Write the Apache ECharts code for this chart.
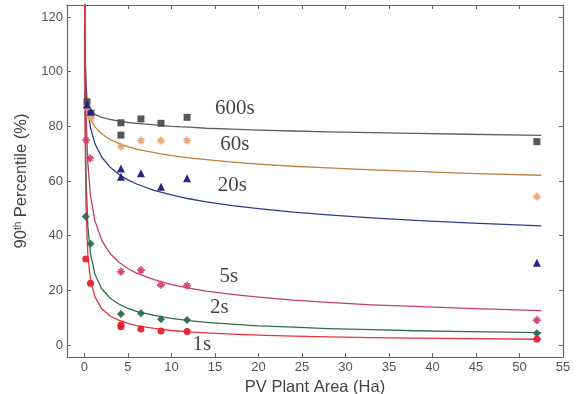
<!DOCTYPE html>
<html>
<head>
<meta charset="utf-8">
<script src="https://cdn.jsdelivr.net/npm/echarts@6/dist/echarts.min.js"></script>
<style>
html,body{margin:0;padding:0;background:#fff;}
#chart{width:576px;height:394px;}
</style>
</head>
<body>
<div id="chart"></div>
<script>
// ---- data ----
var seriesNames = ['600s', '60s', '20s', '5s', '2s', '1s'];

// measured points [area (Ha), 90th percentile (%)]
var pts600 = [[0.3,89],[0.75,84.8],[4.2,81.3],[4.2,76.8],[6.5,82.7],[8.8,81.1],[11.8,83.3],[52,74.4]];
var pts60  = [[0.3,87],[0.75,83],[4.2,72.6],[6.5,74.8],[8.8,74.8],[11.8,74.8],[52,54.3]];
var pts20  = [[0.3,88],[0.75,85.4],[4.2,64.6],[4.2,61.6],[6.5,62.8],[8.8,57.9],[11.8,61],[52,30.1]];
var pts5   = [[0.2,75],[0.65,68.3],[4.2,26.8],[6.5,27.4],[8.8,22],[11.8,21.7],[52,9.1]];
var pts2   = [[0.15,47],[0.7,37],[4.2,11.3],[6.5,11.6],[8.8,9.4],[11.8,9.1],[52,4.3]];
var pts1   = [[0.15,31.5],[0.7,22.6],[4.2,6.7],[4.2,7.3],[6.5,5.8],[8.8,5.1],[11.8,4.9],[52,2.1]];

// fitted curves, values
var fitX   = [0.03, 0.06, 0.1, 0.2, 0.4, 0.7, 1.2, 2, 3, 4, 5, 6, 8, 10, 12, 14, 17, 20, 24, 28, 33, 38, 44, 52.5];
var fit600 = [92.6, 91.0, 89.9, 88.3, 86.8, 85.6, 84.4, 83.3, 82.5, 81.9, 81.4, 81.1, 80.5, 80.0, 79.7, 79.3, 79.0, 78.6, 78.3, 78.0, 77.7, 77.4, 77.1, 76.7];
var fit60  = [102, 97.4, 94.1, 89.9, 85.9, 82.7, 79.8, 77.2, 75.1, 73.7, 72.6, 71.7, 70.4, 69.3, 68.5, 67.8, 66.9, 66.2, 65.4, 64.8, 64.1, 63.5, 62.8, 62.1];
var fit20  = [123, 111.8, 104.1, 94.6, 85.9, 79.5, 73.7, 68.7, 64.9, 62.3, 60.4, 58.9, 56.6, 54.9, 53.5, 52.4, 51.0, 49.9, 48.6, 47.6, 46.5, 45.6, 44.7, 43.6];
var fit5   = [159, 126, 105.9, 83.6, 66.1, 54.6, 45.5, 38.2, 33.3, 30.2, 28.0, 26.3, 23.9, 22.1, 20.8, 19.7, 18.5, 17.5, 16.4, 15.6, 14.7, 14.1, 13.4, 12.6];
var fit2   = [144.6, 104.7, 82.6, 59.8, 43.3, 33.4, 26.0, 20.5, 17.0, 14.9, 13.4, 12.3, 10.8, 9.7, 8.9, 8.3, 7.6, 7.0, 6.5, 6.0, 5.6, 5.2, 4.9, 4.5];
var fit1   = [142, 96, 72, 48.7, 32.9, 24.0, 17.7, 13.2, 10.5, 9.0, 7.9, 7.1, 6.1, 5.3, 4.8, 4.4, 4.0, 3.6, 3.25, 3.0, 2.7, 2.5, 2.3, 2.1];

// curve labels: [text, x, y] in data units
var curveLabels = [['600s',17.3,86.5],['60s',17.3,73.2],['20s',17.0,58.3],['5s',16.6,24.9],['2s',15.5,13.7],['1s',13.5,0.2]];

var xTicks = [0,5,10,15,20,25,30,35,40,45,50,55];
var yTicks = [0,20,40,60,80,100,120];

// ---- styling ----
var markerColors = ['#4d4d4d', '#e6a57a', '#1c1c80', '#d0406e', '#2a6e4c', '#e8202e'];
var lineColors   = ['#5e5e5e', '#c0803e', '#2e3c8c', '#c43c6a', '#2f7050', '#e8323c'];
var asterisk = 'path://M-1,-5L1,-5L1,-1L5,-1L5,1L1,1L1,5L-1,5L-1,1L-5,1L-5,-1L-1,-1Z M-3.9,-2.5L-2.5,-3.9L0,-1.4L2.5,-3.9L3.9,-2.5L1.4,0L3.9,2.5L2.5,3.9L0,1.4L-2.5,3.9L-3.9,2.5L-1.4,0Z';
var symbols = ['rect', asterisk, 'triangle', asterisk, 'diamond', 'circle'];
var symSizes = [7, 8, 8, 8, 8, 7];

var ptsAll = [pts600, pts60, pts20, pts5, pts2, pts1];
var fitAll = [fit600, fit60, fit20, fit5, fit2, fit1];

var series = [];
fitAll.forEach(function (f, i) {
  series.push({
    type: 'line',
    name: seriesNames[i] + ' fit',
    data: fitX.map(function (x, k) { return [x, f[k]]; }),
    smooth: false,
    showSymbol: false,
    silent: true,
    clip: true,
    lineStyle: { color: lineColors[i], width: 1.3, join: 'round' },
    z: 2
  });
});
ptsAll.forEach(function (p, i) {
  series.push({
    type: 'scatter',
    name: seriesNames[i],
    data: p,
    symbol: symbols[i],
    symbolSize: symSizes[i],
    itemStyle: { color: markerColors[i], opacity: 0.95 },
    z: 3
  });
});
series.push({
  type: 'scatter',
  name: 'labels',
  data: curveLabels.map(function (c) { return { value: [c[1], c[2]], name: c[0] }; }),
  symbolSize: 0,
  silent: true,
  label: {
    show: true,
    position: 'inside',
    formatter: function (p) { return p.name; },
    fontFamily: 'Liberation Serif, DejaVu Serif, serif',
    fontSize: 21,
    color: '#141414'
  },
  z: 4
});

var axisGray = '#666';
var sans = 'Liberation Sans, Arial, sans-serif';
var option = {
  backgroundColor: '#ffffff',
  animation: false,
  grid: { left: 67, right: 13, top: 5, bottom: 37, containLabel: false, outerBoundsMode: 'none' },
  xAxis: [{
    type: 'value', min: -2, max: 55, position: 'bottom',
    name: 'PV Plant Area (Ha)', nameLocation: 'middle', nameGap: 13,
    nameTextStyle: { fontFamily: sans, fontSize: 16.5, color: '#444' },
    axisLine: { show: true, onZero: false, lineStyle: { color: axisGray, width: 1.2 } },
    axisTick: { show: true, inside: true, length: 4, customValues: xTicks, lineStyle: { color: axisGray } },
    axisLabel: { show: true, customValues: xTicks, margin: 4, fontFamily: sans, fontSize: 13, color: '#555' },
    splitLine: { show: false }
  }, {
    type: 'value', min: -2, max: 55, position: 'top',
    axisLine: { show: true, onZero: false, lineStyle: { color: axisGray, width: 1.2 } },
    axisTick: { show: true, inside: true, length: 4, customValues: xTicks, lineStyle: { color: axisGray } },
    axisLabel: { show: false },
    splitLine: { show: false }
  }],
  yAxis: [{
    type: 'value', min: -4.4, max: 124.4, position: 'left',
    name: '90{sup|th} Percentile (%)', nameLocation: 'middle', nameGap: 31, nameRotate: 90,
    nameTextStyle: {
      fontFamily: sans, fontSize: 16.5, color: '#444',
      rich: { sup: { fontFamily: sans, fontSize: 10, color: '#444', verticalAlign: 'top', padding: [0, 0, 7, 0] } }
    },
    axisLine: { show: true, onZero: false, lineStyle: { color: axisGray, width: 1.2 } },
    axisTick: { show: true, inside: true, length: 4, customValues: yTicks, lineStyle: { color: axisGray } },
    axisLabel: { show: true, customValues: yTicks, margin: 4, fontFamily: sans, fontSize: 13, color: '#555' },
    splitLine: { show: false }
  }, {
    type: 'value', min: -4.4, max: 124.4, position: 'right',
    axisLine: { show: true, onZero: false, lineStyle: { color: axisGray, width: 1.2 } },
    axisTick: { show: true, inside: true, length: 4, customValues: yTicks, lineStyle: { color: axisGray } },
    axisLabel: { show: false },
    splitLine: { show: false }
  }],
  series: series
};
var chart = echarts.init(document.getElementById('chart'), null, { renderer: 'canvas' });
chart.setOption(option);
</script>
</body>
</html>
